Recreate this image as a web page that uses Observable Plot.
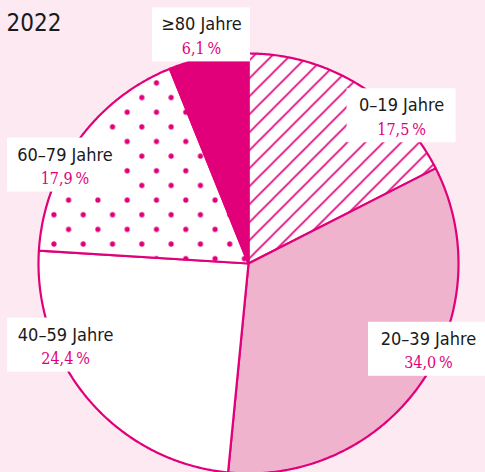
<!DOCTYPE html>
<html><head><meta charset="utf-8">
<script src="https://cdn.jsdelivr.net/npm/d3@7"></script>
<script src="https://cdn.jsdelivr.net/npm/@observablehq/plot@0.6"></script>
<style>
html,body{margin:0;padding:0;background:#fce9f2;overflow:hidden}
#chart{width:485px;height:472px}
</style></head><body><div id="chart"></div>
<script>
// ---- data ----
const year = "2022";
const groups = ["0–19 Jahre", "20–39 Jahre", "40–59 Jahre", "60–79 Jahre", "≥80 Jahre"];
const shares = [17.5, 34.0, 24.4, 17.9, 6.1];
const shareLabels = ["17,5\u202F%", "34,0\u202F%", "24,4\u202F%", "17,9\u202F%", "6,1\u202F%"];
const fills = ["url(#hatch)", "#f0b3cd", "#ffffff", "url(#dots)", "#e2007a"];
// label layout (unit-circle coords of the name line's baseline centre) and box half-widths (px)
const labelU = [0.729, 0.857, -0.871, -0.874, -0.224];
const labelV = [0.725, -0.387, -0.367, 0.490, 1.110];
const boxHalf = [54.5, 60, 58, 57.5, 49];

// ---- layout ----
const R = 210, CX = 248, CY = 263;
const MAG = "#e2007a";
const px = 1 / R;

const arcs = d3.pie().sort(null).value(d => d)(shares);
const pts = [];
arcs.forEach((a, i) => {
  pts.push({i, x: 0, y: 0});
  const n = Math.max(2, Math.ceil((a.endAngle - a.startAngle) / (Math.PI / 360)));
  for (let k = 0; k <= n; k++) {
    const t = a.startAngle + (a.endAngle - a.startAngle) * k / n;
    pts.push({i, x: Math.sin(t), y: Math.cos(t)});
  }
  pts.push({i, x: 0, y: 0});
});

const boxes = groups.map((g, i) => ({
  x1: labelU[i] - boxHalf[i] * px, x2: labelU[i] + boxHalf[i] * px,
  y1: labelV[i] + 22.5 * px, y2: labelV[i] - 31.5 * px
}));

const plot = Plot.plot({
  width: 485, height: 472, margin: 0,
  x: {domain: [-1, 1], range: [CX - R, CX + R], axis: null},
  y: {domain: [-1, 1], range: [CY + R, CY - R], axis: null},
  color: {type: "identity"},
  style: {background: "transparent", overflow: "visible"},
  marks: [
    Plot.line(pts, {x: "x", y: "y", z: "i", fill: d => fills[d.i], stroke: MAG,
      strokeWidth: 2.2, strokeLinejoin: "round", curve: "linear"}),
    Plot.rect(boxes, {x1: "x1", x2: "x2", y1: "y1", y2: "y2", fill: "white"}),
    Plot.text(groups, {x: (d, i) => labelU[i], y: (d, i) => labelV[i], text: d => d,
      lineAnchor: "bottom", textAnchor: "middle", fontSize: 18, fill: "#1a1a1a",
      fontFamily: "DejaVu Sans Condensed"}),
    Plot.text(shareLabels, {x: (d, i) => labelU[i], y: (d, i) => labelV[i], text: d => d,
      dy: 23.5, lineAnchor: "bottom", textAnchor: "middle", fontSize: 16, fill: MAG,
      fontFamily: "DejaVu Serif Condensed"}),
    Plot.text([year], {frameAnchor: "top-left", text: d => d, dx: 6, dy: 30,
      lineAnchor: "bottom", textAnchor: "start", fontSize: 24, fill: "#1a1a1a",
      fontFamily: "DejaVu Sans Condensed"})
  ]
});

// patterns
const svg = d3.select(plot);
const defs = svg.insert("defs", ":first-child");
const H = 18;
const hatch = defs.append("pattern").attr("id", "hatch").attr("patternUnits", "userSpaceOnUse")
  .attr("width", H).attr("height", H).attr("x", 2.7).attr("y", 0);
hatch.append("rect").attr("width", H).attr("height", H).attr("fill", "white");
hatch.append("path")
  .attr("d", `M-2,${H + 2} L${H + 2},-2 M-2,2 L2,-2 M${H - 2},${H + 2} L${H + 2},${H - 2}`)
  .attr("stroke", MAG).attr("stroke-width", 1.6);
const D = 29.3;
const dots = defs.append("pattern").attr("id", "dots").attr("patternUnits", "userSpaceOnUse")
  .attr("width", D).attr("height", D).attr("x", 9.5).attr("y", 23.8);
dots.append("rect").attr("width", D).attr("height", D).attr("fill", "white");
[[0, 0], [D, 0], [0, D], [D, D], [D / 2, D / 2]].forEach(([cx, cy]) =>
  dots.append("circle").attr("cx", cx).attr("cy", cy).attr("r", 2.6).attr("fill", MAG));

document.getElementById("chart").appendChild(plot);
</script></body></html>
